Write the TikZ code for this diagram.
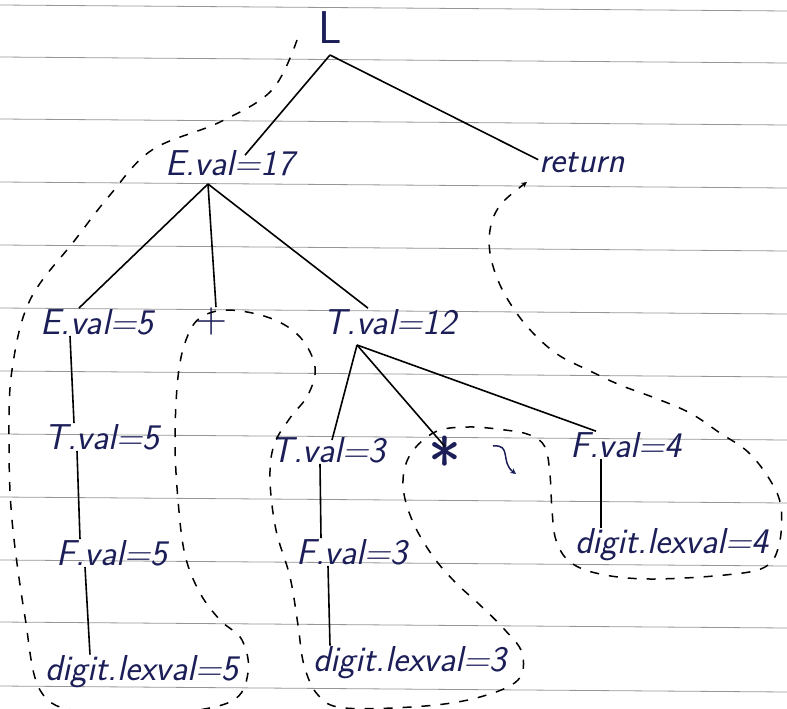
\documentclass[tikz,border=0pt]{standalone}
\usepackage{xcolor}
\definecolor{ink}{RGB}{28,30,88}
\definecolor{rule}{RGB}{150,150,150}

\tikzset{
  lbl/.style={text=ink, inner sep=1pt, font=\fontsize{36}{38}\selectfont\sffamily\slshape},
  opsym/.style={text=ink, inner sep=1pt, font=\fontsize{44}{46}\selectfont\sffamily},
  edge/.style={black, line width=1.6pt},
  tour/.style={black, line width=1.5pt, dash pattern=on 9pt off 10pt},
}

\begin{document}
\begin{tikzpicture}[x=1pt, y=-1pt, >=stealth]
\useasboundingbox (0,0) rectangle (787,709);
% notebook rules
\foreach \ry in {5,57,119,182,245,308,371,434,497,560,622,686}
  \draw[rule, line width=0.8pt] (0,\ry) -- (787,\ry+6);
% Nodes of the annotated parse tree
\node[lbl, font=\fontsize{46}{48}\selectfont\sffamily] (l) at (330,28) {L};
\node[lbl] (e17) at (230,163) {E.val=17};
\node[lbl] (ret) at (582,163) {return};
\node[lbl] (e5) at (97,322) {E.val=5};
\node[opsym] (plus) at (212,322) {+};
\node[lbl] (t12) at (390,322) {T.val=12};
\node[lbl] (t5) at (102,437) {T.val=5};
\node[lbl] (t3) at (328,450) {T.val=3};
\node[opsym, font=\fontsize{70}{72}\selectfont\sffamily] (times) at (445,462) {*};
\node[lbl] (f4) at (626,445) {F.val=4};
\node[lbl] (f5) at (112,553) {F.val=5};
\node[lbl] (f3) at (352,552) {F.val=3};
\node[lbl] (lex5) at (142,672) {digit.lexval=5};
\node[lbl] (lex3) at (410,663) {digit.lexval=3};
\node[lbl] (lex4) at (672,545) {digit.lexval=4};
% Junction points under the parents
\coordinate (jl) at (330,55);
\coordinate (j17) at (208,184);
\coordinate (j12) at (357,345);
% Tree edges
\draw[edge] (jl) -- ([xshift=15pt, yshift=-6pt]e17.north);
\draw[edge] (jl) -- ([yshift=-8pt]ret.north west);
\draw[edge] (j17) -- ([xshift=-18pt]e5.north);
\draw[edge] (j17) -- ([xshift=4pt]plus.north);
\draw[edge] (j17) -- ([xshift=-22pt]t12.north);
\draw[edge] (j12) -- ([xshift=4pt, yshift=-4pt]t3.north);
\draw[edge] (j12) -- ([yshift=-12pt]times.north);
\draw[edge] (j12) -- ([xshift=-30pt]f4.north);
\draw[edge] ([xshift=-27pt]e5.south) -- ([xshift=-28pt]t5.north);
\draw[edge] ([xshift=-25pt]t5.south) -- ([xshift=-32pt]f5.north);
\draw[edge] ([xshift=-27pt]f5.south) -- ([xshift=-52pt]lex5.north);
\draw[edge] ([xshift=-8pt]t3.south) -- ([xshift=-31pt]f3.north);
\draw[edge] ([xshift=-24pt]f3.south) -- ([xshift=-80pt]lex3.north);
\draw[edge] ([xshift=-25pt]f4.south) -- ([xshift=-71pt]lex4.north);
% Dashed tour round the tree, ending at return
\draw[tour, ->] plot[smooth, tension=0.6] coordinates {
  (297,40) (272,90) (220,122) (152,150) (110,195) (75,240) (30,300)
  (12,370) (9,440) (12,520) (25,617) (40,690) (80,712) (160,714)
  (230,702) (248,673) (242,640) (220,620) (200,593) (185,555)
  (178,500) (175,440) (178,377) (186,340) (200,318) (228,310)
  (270,318) (300,337) (315,367) (308,395) (290,418) (274,445)
  (270,480) (276,530) (290,577) (298,625) (304,665) (318,695)
  (345,708) (425,706) (480,697) (518,680) (522,653) (505,630)
  (480,605) (455,582) (432,555) (412,520) (403,485) (410,455)
  (435,432) (468,427) (505,430) (530,435) (545,447) (550,475)
  (552,510) (556,540) (570,562) (600,574) (650,579) (725,575)
  (765,567) (779,545) (781,507) (770,480) (748,452) (720,433)
  (690,413) (655,398) (620,385) (588,370) (560,356) (538,338)
  (518,315) (500,285) (490,253) (491,225) (502,203) (527,182)};
% small direction mark near *
\draw[ink, line width=1.5pt, ->] (493,446) .. controls (512,444) and (500,462) .. (516,474);
\end{tikzpicture}
\end{document}
